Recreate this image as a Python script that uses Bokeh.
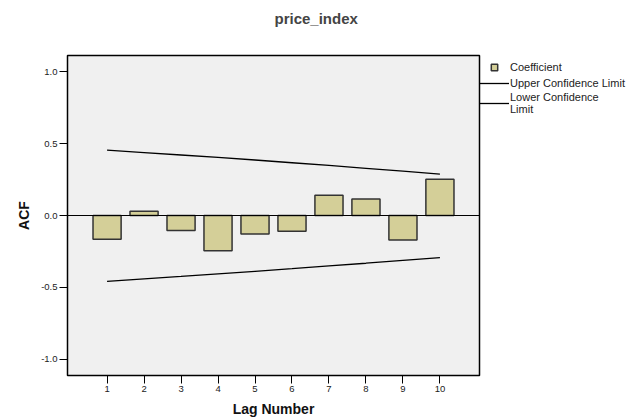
from bokeh.plotting import figure
from bokeh.models import (FixedTicker, NumeralTickFormatter, Span, Legend, LegendItem,
                          ColumnDataSource, Range1d, Title)
from bokeh.embed import file_html
from bokeh.resources import INLINE

title_text = "price_index"
lags = [1, 2, 3, 4, 5, 6, 7, 8, 9, 10]
acf = [-0.165, 0.030, -0.105, -0.246, -0.128, -0.109, 0.141, 0.114, -0.170, 0.253]
upper = [0.455, 0.438, 0.421, 0.404, 0.386, 0.367, 0.348, 0.328, 0.308, 0.288]
lower = [-0.458, -0.441, -0.424, -0.406, -0.388, -0.370, -0.351, -0.332, -0.312, -0.293]
y_ticks = [-1.0, -0.5, 0.0, 0.5, 1.0]
legend_labels = ["Coefficient", "Upper Confidence Limit", "Lower Confidence\nLimit"]

FONT = "Liberation Sans"
BAR_FILL = "#d4cf98"
BAR_LINE = "#333333"

FW, FH = 412, 320
p = figure(frame_width=FW, frame_height=FH, output_backend="svg", toolbar_location=None,
           x_range=Range1d(-0.07, 11.07), y_range=Range1d(-1.113, 1.113),
           min_border_left=67, min_border_right=153, min_border_top=55, min_border_bottom=43)
p.title.visible = False

p.background_fill_color = "#f0f0f0"
p.border_fill_color = "white"
p.outline_line_color = "black"
p.outline_line_width = 1.5
p.xgrid.visible = False
p.ygrid.visible = False

# spacer between frame and title, then the title itself (further from the frame)
spacer = Title(text=" ", text_font_size="1px", standoff=26, text_color="white")
p.add_layout(spacer, "above")
main_title = Title(text=title_text, text_font=FONT, text_font_size="15px",
                   text_font_style="bold", align="left", offset=207, standoff=0)
p.add_layout(main_title, "above")

src = ColumnDataSource(dict(lag=lags, acf=acf, upper=upper, lower=lower))

bars = p.vbar(x="lag", top="acf", bottom=0, width=0.76, source=src,
              fill_color=BAR_FILL, line_color=BAR_LINE, line_width=1.5)
up = p.line(x="lag", y="upper", source=src, line_color="black", line_width=1.3)
lo = p.line(x="lag", y="lower", source=src, line_color="black", line_width=1.3)
p.add_layout(Span(location=0, dimension="width", line_color="black", line_width=1))

# legend proxy marker (placed outside the visible range; only drawn in the legend)
sq = p.scatter(x=[0], y=[5], marker="square", size=8, fill_color=BAR_FILL,
               line_color=BAR_LINE, line_width=1.5)

legend = Legend(items=[LegendItem(label=legend_labels[0], renderers=[sq]),
                       LegendItem(label=legend_labels[1], renderers=[up]),
                       LegendItem(label=legend_labels[2], renderers=[lo])],
                location=(0, FH - 1 - 59), orientation="vertical")
legend.glyph_width = 30
legend.glyph_height = 16
legend.label_standoff = 1
legend.spacing = 0
legend.padding = 0
legend.margin = 0
legend.border_line_color = None
legend.background_fill_color = None
legend.background_fill_alpha = 0
legend.label_text_font = FONT
legend.label_text_font_size = "11px"
legend.label_text_color = "#222222"
legend.label_text_line_height = 1.2
legend.label_height = 13
p.add_layout(legend, "right")

# axes
for ax in (p.xaxis[0], p.yaxis[0]):
    ax.axis_line_color = None
    ax.major_tick_in = 0
    ax.major_tick_out = 8
    ax.major_tick_line_color = "black"
    ax.major_tick_line_width = 1
    ax.minor_tick_line_color = None
    ax.major_label_text_font = FONT
    ax.major_label_text_font_size = "9.5px"
    ax.major_label_text_color = "#222222"
    ax.axis_label_text_font = FONT
    ax.axis_label_text_font_size = "14px"
    ax.axis_label_text_font_style = "bold"
    ax.axis_label_text_color = "#111111"

p.xaxis.ticker = FixedTicker(ticks=lags)
p.xaxis.axis_label = "Lag Number"
p.xaxis.major_label_standoff = 2
p.xaxis.axis_label_standoff = 6

p.yaxis.ticker = FixedTicker(ticks=y_ticks)
p.yaxis.formatter = NumeralTickFormatter(format="0.0")
p.yaxis.axis_label = "ACF"
p.yaxis.major_label_standoff = 2
p.yaxis.axis_label_standoff = 6

open("out.html", "w").write(file_html(p, INLINE))
